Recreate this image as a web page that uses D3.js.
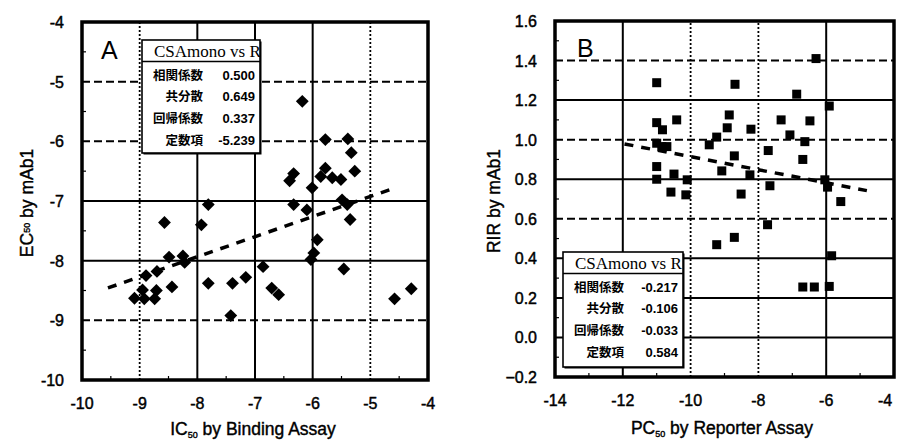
<!DOCTYPE html>
<html>
<head>
<meta charset="utf-8">
<script src="https://d3js.org/d3.v7.min.js"></script>
<style>
  body { margin: 0; background: #fff; }
  svg { display: block; }
</style>
</head>
<body>
<div id="chart"></div>
<script>
// Panel A: IC50 (binding) vs EC50 (mAb1)
var aTicksX = [-10, -9, -8, -7, -6, -5, -4];
var aTicksY = [-10, -9, -8, -7, -6, -5, -4];
var aX = [-6.18, -5.78, -5.39, -5.33, -5.27, -6.33, -6.40, -5.78, -5.86, -5.66, -5.51,
  -6.01, -6.33, -6.10, -5.49, -5.40, -5.35, -5.92, -5.98, -6.03, -5.46, -6.86, -6.71,
  -6.59, -4.58, -4.29, -8.57, -7.93, -7.81, -8.49, -8.25, -8.22, -8.70, -8.89, -8.44,
  -8.95, -8.71, -9.09, -8.92, -8.74, -7.81, -7.39, -7.16, -7.42];
var aY = [-5.33, -5.97, -5.96, -6.19, -6.50, -6.54, -6.66, -6.45, -6.59, -6.61, -6.64,
  -6.78, -7.06, -7.15, -6.98, -7.06, -7.31, -7.65, -7.87, -7.98, -8.14, -8.10, -8.46,
  -8.57, -8.64, -8.47, -7.36, -7.40, -7.06, -7.94, -7.92, -8.03, -8.18, -8.25, -8.44,
  -8.49, -8.50, -8.63, -8.64, -8.64, -8.38, -8.38, -8.28, -8.92];
var aFitRange = [-9.55, -4.65];
var aStats = ["0.500", "0.649", "0.337", "-5.239"];

// Panel B: PC50 (reporter) vs RIR (mAb1)
var bTicksX = [-14, -12, -10, -8, -6, -4];
var bTicksY = [-0.2, 0.0, 0.2, 0.4, 0.6, 0.8, 1.0, 1.2, 1.4, 1.6];
var bX = [-11.0, -8.69, -6.30, -6.87, -5.91, -11.0, -10.41, -10.83, -8.86, -8.92, -8.22,
  -7.33, -6.48, -7.07, -6.63, -9.23, -9.45, -11.0, -10.85, -10.70, -7.71, -8.71, -6.69,
  -11.0, -9.08, -10.49, -8.25, -11.0, -10.10, -6.04, -5.96, -7.66, -10.58, -10.14, -8.51,
  -5.57, -7.73, -8.71, -9.23, -5.84, -6.69, -6.35, -5.91];
var bY = [1.288, 1.28, 1.41, 1.23, 1.17, 1.086, 1.10, 1.05, 1.125, 1.06, 1.053,
  1.10, 1.095, 1.024, 0.99, 1.013, 0.974, 0.982, 0.965, 0.965, 0.945, 0.918, 0.90,
  0.864, 0.842, 0.826, 0.822, 0.80, 0.797, 0.797, 0.76, 0.767, 0.735, 0.721, 0.725,
  0.687, 0.570, 0.506, 0.469, 0.413, 0.255, 0.255, 0.258];
var bFitRange = [-11.95, -4.8];
var bStats = ["-0.217", "-0.106", "-0.033", "0.584"];

var statLabels = ["相関係数", "共分散", "回帰係数", "定数項"];
var tableTitle = "CSAmono vs R";

var svg = d3.select("#chart").append("svg")
  .attr("width", 898)
  .attr("height", 441)
  .style("background", "#fff");

var tickFont = "'Liberation Sans', Arial, sans-serif";
var dashStyle = { solid: null, dash: "8,4", dot: "2,2" };

// scanned look: text a little heavier than normal weight
function heavy(sel, w) {
  return sel.style("stroke", "#000").style("stroke-width", (w || 0.45) + "px");
}

function drawPanel(p) {
  var x = d3.scaleLinear().domain(p.xDomain).range(p.xRange);
  var y = d3.scaleLinear().domain(p.yDomain).range(p.yRange);
  var g = svg.append("g");

  // grid lines
  p.gridX.forEach(function (s, i) {
    var v = p.ticksX[i + 1];
    g.append("line")
      .attr("x1", x(v)).attr("x2", x(v))
      .attr("y1", p.yRange[0]).attr("y2", p.yRange[1])
      .attr("stroke", "#000")
      .attr("stroke-width", s == "dot" ? 1.8 : 2)
      .attr("stroke-dasharray", dashStyle[s]);
  });
  p.gridY.forEach(function (s, i) {
    var v = p.ticksY[i + 1];
    g.append("line")
      .attr("x1", p.xRange[0]).attr("x2", p.xRange[1])
      .attr("y1", y(v)).attr("y2", y(v))
      .attr("stroke", "#000")
      .attr("stroke-width", 2)
      .attr("stroke-dasharray", dashStyle[s]);
  });

  // minor ticks on left and bottom
  var mx = p.ticksX.slice(0, -1).map(function (d, i) { return (d + p.ticksX[i + 1]) / 2; });
  var my = p.ticksY.slice(0, -1).map(function (d, i) { return (d + p.ticksY[i + 1]) / 2; });
  g.selectAll(".mx").data(mx).enter().append("line")
    .attr("x1", function (d) { return x(d); }).attr("x2", function (d) { return x(d); })
    .attr("y1", p.yRange[0]).attr("y2", p.yRange[0] - 4)
    .attr("stroke", "#000").attr("stroke-width", 1.2);
  g.selectAll(".my").data(my).enter().append("line")
    .attr("y1", function (d) { return y(d); }).attr("y2", function (d) { return y(d); })
    .attr("x1", p.xRange[0]).attr("x2", p.xRange[0] + 4)
    .attr("stroke", "#000").attr("stroke-width", 1.2);

  // regression line
  var fit = function (v) { return p.slope * v + p.intercept; };
  g.append("line")
    .attr("x1", x(p.fitRange[0])).attr("y1", y(fit(p.fitRange[0])))
    .attr("x2", x(p.fitRange[1])).attr("y2", y(fit(p.fitRange[1])))
    .attr("stroke", "#000")
    .attr("stroke-width", 3.5)
    .attr("stroke-dasharray", "9,8");

  // points
  var pts = p.xs.map(function (d, i) { return [d, p.ys[i]]; });
  if (p.marker == "diamond") {
    g.selectAll(".pt").data(pts).enter().append("path")
      .attr("d", d3.symbol().type(d3.symbolDiamond2).size(105))
      .attr("transform", function (d) { return "translate(" + x(d[0]) + "," + y(d[1]) + ")"; })
      .attr("fill", "#000");
  } else {
    g.selectAll(".pt").data(pts).enter().append("rect")
      .attr("x", function (d) { return x(d[0]) - 4.5; })
      .attr("y", function (d) { return y(d[1]) - 4.5; })
      .attr("width", 9).attr("height", 9)
      .attr("fill", "#000");
  }

  // frame
  g.append("rect")
    .attr("x", p.xRange[0]).attr("y", p.yRange[1])
    .attr("width", p.xRange[1] - p.xRange[0])
    .attr("height", p.yRange[0] - p.yRange[1])
    .attr("fill", "none")
    .attr("stroke", "#000")
    .attr("stroke-width", 3.5);

  // tick labels (last x label kept inside the page)
  heavy(g.selectAll(".tx").data(p.ticksX).enter().append("text")
    .attr("x", function (d) { return Math.min(x(d), 885); })
    .attr("y", p.yRange[0] + 29)
    .attr("text-anchor", "middle")
    .style("font-family", tickFont).style("font-size", "16px")
    .text(function (d) { return d; }));
  heavy(g.selectAll(".ty").data(p.ticksY).enter().append("text")
    .attr("x", p.xRange[0] - 18)
    .attr("y", function (d) { return y(d) + 6; })
    .attr("text-anchor", "end")
    .style("font-family", tickFont).style("font-size", "16px")
    .text(function (d) { return p.yFmt(d); }));

  // axis titles
  var xt = heavy(g.append("text")
    .attr("x", p.xTitlePos[0]).attr("y", p.xTitlePos[1])
    .attr("text-anchor", "middle")
    .style("font-family", tickFont).style("font-size", "17.5px"), 0.4);
  xt.append("tspan").text(p.xTitle[0]);
  xt.append("tspan").attr("dy", 3).style("font-size", "9px").text("50");
  xt.append("tspan").attr("dy", -3).text(p.xTitle[1]);

  var yt = heavy(g.append("text")
    .attr("transform", "translate(" + p.yTitlePos[0] + "," + p.yTitlePos[1] + ")rotate(-90)")
    .attr("text-anchor", "middle")
    .style("font-family", tickFont).style("font-size", "17.5px"), 0.4);
  yt.append("tspan").text(p.yTitle[0]);
  if (p.yTitle.length > 1) {
    yt.append("tspan").attr("dy", -3).style("font-size", "9px").text("50");
    yt.append("tspan").attr("dy", 3).text(p.yTitle[1]);
  }

  // panel letter
  g.append("text")
    .attr("x", p.letterPos[0]).attr("y", p.letterPos[1])
    .style("font-family", tickFont).style("font-size", "25px")
    .text(p.letter);

  // stats table
  var t = p.table;
  var tg = svg.append("g");
  var clipId = "clip" + p.letter;
  tg.append("clipPath").attr("id", clipId).append("rect")
    .attr("x", t.x).attr("y", t.y).attr("width", t.w).attr("height", t.h);
  tg.append("rect")
    .attr("x", t.x + 1.5).attr("y", t.y + 1.5).attr("width", t.w).attr("height", t.h)
    .attr("fill", "#000");
  tg.append("rect")
    .attr("x", t.x).attr("y", t.y).attr("width", t.w).attr("height", t.h)
    .attr("fill", "#fff").attr("stroke", "#000").attr("stroke-width", 1.6);
  tg.append("line")
    .attr("x1", t.x).attr("x2", t.x + t.w)
    .attr("y1", t.y + 21.5).attr("y2", t.y + 21.5)
    .attr("stroke", "#000").attr("stroke-width", 1.4);
  tg.append("text")
    .attr("clip-path", "url(#" + clipId + ")")
    .attr("x", t.x + 12).attr("y", t.y + 16.5)
    .style("font-family", "'Liberation Serif', 'Times New Roman', serif")
    .style("font-size", "17px")
    .text(tableTitle);
  statLabels.forEach(function (lab, i) {
    var ty = t.y + 39.5 + i * 21.7;
    tg.append("text")
      .attr("x", t.x + 61).attr("y", ty)
      .attr("text-anchor", "end")
      .style("font-family", "'Noto Sans CJK JP', sans-serif")
      .style("font-size", "12.5px").style("font-weight", "bold")
      .text(lab);
    tg.append("text")
      .attr("x", t.x + t.w - 5).attr("y", ty)
      .attr("text-anchor", "end")
      .style("font-family", tickFont)
      .style("font-size", "13px").style("font-weight", "bold")
      .text(p.stats[i]);
  });
}

drawPanel({
  xDomain: [-10, -4], xRange: [82, 428],
  yDomain: [-10, -4], yRange: [380, 22],
  ticksX: aTicksX, ticksY: aTicksY,
  gridX: ["dot", "solid", "solid", "solid", "dot"],
  gridY: ["dash", "solid", "solid", "dash", "dash"],
  xs: aX, ys: aY, marker: "diamond",
  slope: +aStats[2], intercept: +aStats[3], fitRange: aFitRange,
  yFmt: function (d) { return d; },
  xTitle: ["IC", " by Binding Assay"], xTitlePos: [253, 435],
  yTitle: ["EC", " by mAb1"], yTitlePos: [33, 203],
  letter: "A", letterPos: [101, 59],
  stats: aStats,
  table: { x: 142, y: 40, w: 118, h: 113 }
});

drawPanel({
  xDomain: [-14, -4], xRange: [555, 894],
  yDomain: [-0.2, 1.6], yRange: [377, 21],
  ticksX: bTicksX, ticksY: bTicksY,
  gridX: ["solid", "dot", "dot", "solid"],
  gridY: ["solid", "solid", "solid", "dash", "solid", "dash", "solid", "dash"],
  xs: bX, ys: bY, marker: "square",
  slope: +bStats[2], intercept: +bStats[3], fitRange: bFitRange,
  yFmt: d3.format(".1f"),
  xTitle: ["PC", " by Reporter Assay"], xTitlePos: [722, 434],
  yTitle: ["RIR by mAb1"], yTitlePos: [500, 201],
  letter: "B", letterPos: [577, 57],
  stats: bStats,
  table: { x: 563, y: 252, w: 120, h: 115 }
});
</script>
</body>
</html>
